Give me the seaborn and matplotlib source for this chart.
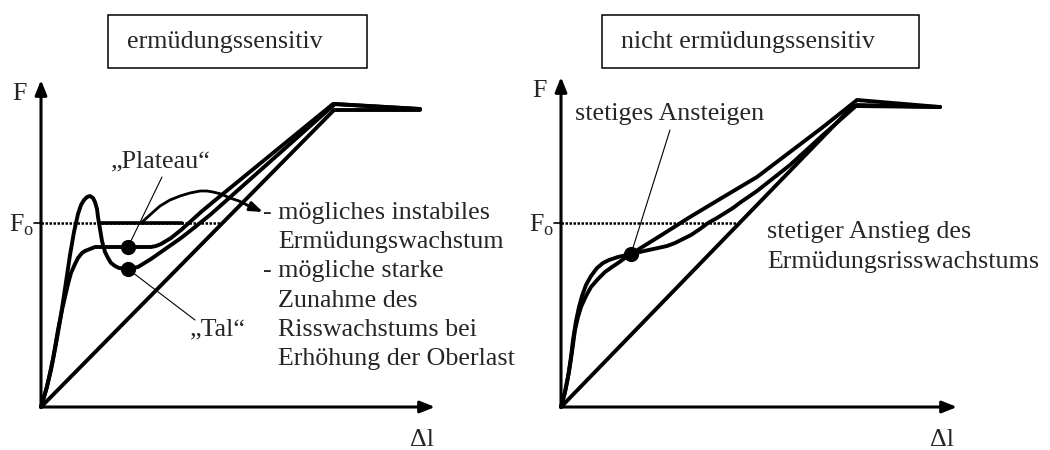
import seaborn as sns
import matplotlib
matplotlib.use('Agg')
import matplotlib.pyplot as plt
from matplotlib.patches import Rectangle

# Schematic F - delta l curves, values in drawing units (origin at the axes corner)
F_O = 184

# left: "ermüdungssensitiv"
tal_x = [0, 5, 10, 15, 20, 25, 29, 33, 37, 40, 43, 46, 49, 52, 54, 56, 57, 59, 61, 64,
         67, 70, 74, 78, 87, 97, 110, 120, 130, 140, 149, 159, 169, 294, 379]
tal_y = [0, 17, 37, 63, 92, 125, 152, 175, 193, 202, 207, 210, 211, 209, 205, 198, 190,
         178, 166, 155, 149, 144, 141, 139, 138, 140, 148, 155, 162, 169, 176, 184, 192,
         303, 298]
plateau_x = [0, 6, 12, 17, 21, 24, 27, 30, 34, 37, 41, 44, 49, 54, 70, 87, 110, 115, 120,
             125, 130, 140, 149, 160, 172, 292, 379]
plateau_y = [0, 20, 48, 77, 97, 110, 123, 134, 143, 149, 154, 156, 158, 160, 160, 160, 160,
             161, 163, 166, 169, 177, 185, 195, 205, 303, 298]
instab_x = [100, 110, 119, 129, 139, 149, 159, 166, 172, 180, 189, 198, 206, 222]
instab_y = [184, 193, 201, 207, 211, 214, 216, 216, 215, 213, 209, 206, 202, 195]
lin_left_x = [0, 293, 379]
lin_left_y = [0, 297, 297]
dots_left_x = [87, 87]
dots_left_y = [138, 160]
left_notes = ["- mögliches instabiles", "Ermüdungswachstum", "- mögliche starke",
              "Zunahme des", "Risswachstums bei", "Erhöhung der Oberlast"]

# right: "nicht ermüdungssensitiv"
outer_x = [0, 4, 7, 10, 12, 15, 18, 21, 25, 30, 36, 42, 48, 57, 70, 83, 97, 106, 114, 122,
           130, 139, 147, 156, 164, 172, 180, 196, 229, 262, 296, 379]
outer_y = [0, 15, 30, 50, 67, 86, 100, 111, 122, 131, 139, 144, 147, 150, 153, 156, 159,
           161, 164, 168, 172, 178, 184, 189, 194, 199, 205, 216, 242, 272, 302, 300]
inner_x = [0, 4, 8, 11, 14, 17, 20, 25, 30, 37, 44, 51, 57, 64, 70, 99, 129, 164, 196,
           229, 262, 296, 379]
inner_y = [0, 15, 35, 55, 77, 90, 100, 111, 120, 128, 135, 140, 144, 149, 153, 171, 190,
           211, 230, 255, 280, 307, 300]
lin_right_x = [0, 292, 379]
lin_right_y = [0, 301, 300]
dot_right_x = [70]
dot_right_y = [153]
right_notes = ["stetiger Anstieg des", "Ermüdungsrisswachstums"]

sns.set_style('white')
plt.rcParams['font.family'] = ['Liberation Serif', 'DejaVu Serif']
plt.rcParams['mathtext.fontset'] = 'custom'
plt.rcParams['mathtext.rm'] = 'Liberation Serif'

FS = 18.7
LW = 2.8
line_kw = dict(color='black', sort=False, estimator=None, solid_joinstyle='round',
               solid_capstyle='round')

fig = plt.figure(figsize=(10.5, 4.5), dpi=100)
ax1 = fig.add_axes([0, 0, 0.5, 1])
ax2 = fig.add_axes([0.5, 0, 0.5, 1])
ax1.set_xlim(-41, 484)
ax2.set_xlim(-36, 489)
for ax in (ax1, ax2):
    ax.set_ylim(-43, 407)
    ax.axis('off')


def frame(ax, ytop, xright, title, box):
    arr = dict(arrowstyle='-|>,head_length=0.55,head_width=0.22', lw=2.2, color='black',
               shrinkA=0, shrinkB=0, mutation_scale=16)
    ax.annotate('', xy=(0, ytop), xytext=(0, 0), arrowprops=arr)
    ax.annotate('', xy=(xright, 0), xytext=(0, 0), arrowprops=arr)
    ax.text(-29, ytop - 20, 'F', fontsize=FS, ha='left', va='baseline')
    ax.text(369, -39, 'Δl', fontsize=FS, ha='left', va='baseline')
    ax.text(-32, F_O - 9, r'F$_{\mathrm{o}}$', fontsize=FS, ha='left', va='baseline')
    ax.plot([-7, 0], [F_O, F_O], color='black', lw=1.2)
    ax.add_patch(Rectangle((box[0], 339), box[1] - box[0], 53, fill=False, lw=1.1,
                           edgecolor='black'))
    ax.text(box[0] + 19, 359, title, fontsize=FS, ha='left', va='baseline')


# left panel
frame(ax1, 327, 394, 'ermüdungssensitiv', (67, 326))
ax1.plot([0, 179], [F_O, F_O], color='black', lw=1.8, ls=(0, (1, 0.6)))
ax1.plot([59, 141], [F_O, F_O], color='black', lw=2.6)
sns.lineplot(x=lin_left_x, y=lin_left_y, ax=ax1, lw=LW, **line_kw)
sns.lineplot(x=tal_x, y=tal_y, ax=ax1, lw=LW, **line_kw)
sns.lineplot(x=plateau_x, y=plateau_y, ax=ax1, lw=LW, **line_kw)
sns.lineplot(x=instab_x[:-1], y=instab_y[:-1], ax=ax1, lw=2.0, **line_kw)
ax1.annotate('', xy=(instab_x[-1], instab_y[-1]), xytext=(instab_x[-2], instab_y[-2]),
             arrowprops=dict(arrowstyle='-|>,head_length=0.55,head_width=0.2', lw=2.0,
                             color='black', shrinkA=0, shrinkB=0, mutation_scale=14))
sns.scatterplot(x=dots_left_x, y=dots_left_y, ax=ax1, s=120, color='black',
                linewidth=0, zorder=5)
ax1.plot([121, 87], [230, 160], color='black', lw=0.8)
ax1.plot([87, 154], [138, 87], color='black', lw=0.8)
ax1.text(70, 240, '„Plateau“', fontsize=FS, ha='left', va='baseline')
ax1.text(149, 72, '„Tal“', fontsize=FS, ha='left', va='baseline')
for i, line in enumerate(left_notes):
    x = 222 if line.startswith('-') else 237
    ax1.text(x, 188 - 29.2 * i, line, fontsize=FS, ha='left', va='baseline')

# right panel
frame(ax2, 330, 396, 'nicht ermüdungssensitiv', (41, 358))
ax2.plot([0, 176], [F_O, F_O], color='black', lw=1.8, ls=(0, (1, 0.6)))
sns.lineplot(x=lin_right_x, y=lin_right_y, ax=ax2, lw=LW, **line_kw)
sns.lineplot(x=outer_x, y=outer_y, ax=ax2, lw=LW, **line_kw)
sns.lineplot(x=inner_x, y=inner_y, ax=ax2, lw=LW, **line_kw)
sns.scatterplot(x=dot_right_x, y=dot_right_y, ax=ax2, s=120, color='black',
                linewidth=0, zorder=5)
ax2.plot([109, 70], [277, 153], color='black', lw=0.8)
ax2.text(14, 287, 'stetiges Ansteigen', fontsize=FS, ha='left', va='baseline')
for i, line in enumerate(right_notes):
    ax2.text(206, 169 - 30 * i, line, fontsize=FS, ha='left', va='baseline')

plt.savefig('out.png', dpi=100, facecolor='white')
